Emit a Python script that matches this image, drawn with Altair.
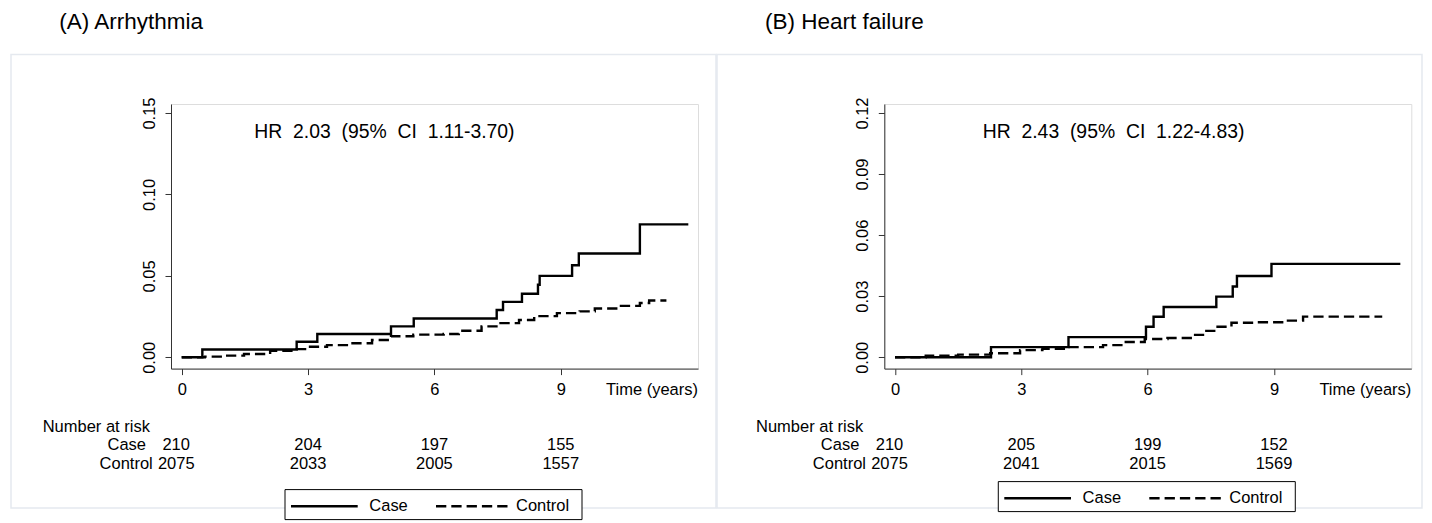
import altair as alt
import pandas as pd

FONT = "Liberation Sans"
GROUPS = ["Case", "Control"]

# ---------------- Panel A: Arrhythmia ----------------
a_case_t = [0, 0.49, 2.73, 3.22, 4.97, 5.51, 7.48, 7.63, 8.08, 8.46, 8.50, 9.27, 9.43, 10.88, 12.03]
a_case_y = [0, 0.0048, 0.0095, 0.0143, 0.019, 0.0238, 0.0290, 0.0340, 0.0390, 0.0445, 0.0500, 0.0565, 0.0637, 0.0816, 0.0816]
a_ctrl_t = [0, 0.55, 1.03, 1.48, 2.1, 2.73, 3.0, 3.45, 3.98, 4.52, 4.97, 5.5, 6.22, 6.58, 7.12, 7.57,
            8.01, 8.37, 8.91, 9.45, 9.81, 10.43, 10.88, 11.1, 11.51]
a_ctrl_y = [0, 0.0004, 0.001, 0.002, 0.004, 0.005, 0.0065, 0.0075, 0.0086, 0.0106, 0.0129, 0.0139, 0.0143,
            0.0163, 0.019, 0.021, 0.0229, 0.0253, 0.0271, 0.0282, 0.030, 0.0316, 0.0333, 0.0349, 0.0349]
a_yticks = [0, 0.05, 0.10, 0.15]
a_risk_case = [210, 204, 197, 155]
a_risk_ctrl = [2075, 2033, 2005, 1557]

# ---------------- Panel B: Heart failure ----------------
b_case_t = [0, 2.28, 4.12, 5.96, 6.14, 6.38, 7.63, 8.02, 8.12, 8.94, 12.0]
b_case_y = [0, 0.005, 0.0099, 0.015, 0.0199, 0.0247, 0.0298, 0.0348, 0.0399, 0.0459, 0.0459]
b_ctrl_t = [0, 0.73, 1.5, 2.26, 2.97, 3.5, 4.05, 4.94, 5.48, 5.93, 6.47, 7.09, 7.36, 7.63, 7.99, 8.6,
            9.24, 9.69, 11.57]
b_ctrl_y = [0, 0.0008, 0.0013, 0.002, 0.0035, 0.0042, 0.005, 0.006, 0.0075, 0.009, 0.0095, 0.011, 0.013,
            0.015, 0.017, 0.0172, 0.018, 0.020, 0.020]
b_yticks = [0, 0.03, 0.06, 0.09, 0.12]
b_risk_case = [210, 205, 199, 152]
b_risk_ctrl = [2075, 2041, 2015, 1569]

risk_times = [0, 3, 6, 9]
x_ticks = [0, 3, 6, 9]

W, H = 527, 264.6
X_DOMAIN = [-0.254, 12.26]


def one(text):
    return pd.DataFrame({"label": [text]})


def txt(text, x, y, size=16.5, align="left", baseline="alphabetic"):
    return alt.Chart(one(text)).mark_text(
        align=align, baseline=baseline, fontSize=size, font=FONT, color="black"
    ).encode(text="label:N", x=alt.value(x), y=alt.value(y))


def panel(title, title_x, hr, hr_x, case_t, case_y, ctrl_t, ctrl_y, yticks, ydom,
          risk_case, risk_ctrl, leg_top, frame_l, frame_r, anchor=False):
    xaxis = alt.Axis(values=x_ticks, format="d", title=None, labelFont=FONT, labelFontSize=16.5,
                     labelColor="black", labelPadding=7, labelFlush=False, tickSize=6,
                     tickColor="#333", domainColor="#333", grid=False)
    xs = alt.Scale(domain=X_DOMAIN, nice=False, zero=False)
    x = alt.X("t:Q", scale=xs, axis=xaxis)
    y = alt.Y("v:Q", scale=alt.Scale(domain=ydom, nice=False, zero=False),
              axis=alt.Axis(values=yticks, format=".2f", title=None, labelFont=FONT,
                            labelFontSize=16.5, labelColor="black", labelAngle=270,
                            labelAlign="center", labelBaseline="alphabetic", labelPadding=10.7,
                            labelFlush=False, tickSize=6, tickColor="#333", domainColor="#333",
                            grid=False))

    curves = pd.DataFrame({
        "t": case_t + ctrl_t,
        "v": case_y + ctrl_y,
        "group": ["Case"] * len(case_t) + ["Control"] * len(ctrl_t),
    })
    lines = alt.Chart(curves).mark_line(
        interpolate="step-after", color="black", strokeWidth=2.4
    ).encode(
        x=x, y=y,
        strokeDash=alt.StrokeDash("group:N", scale=alt.Scale(domain=GROUPS, range=[[1, 0], [10.3, 5]]),
                                  legend=None),
        detail="group:N",
    )

    layers = []
    blank = pd.DataFrame({"a": [0]})
    if anchor:
        layers.append(alt.Chart(blank).mark_rect(color="white").encode(
            x=alt.value(-162), x2=alt.value(-161), y=alt.value(-94.7), y2=alt.value(-93.7)))
    # panel frame
    layers.append(alt.Chart(blank).mark_rect(fillOpacity=0, stroke="#e5e9ef", strokeWidth=1.5).encode(
        x=alt.value(frame_l), x2=alt.value(frame_r), y=alt.value(-49.4), y2=alt.value(404)))
    layers.append(lines)
    layers.append(txt(title, title_x, -75.4, size=22.5))
    layers.append(txt(hr, hr_x, 34, size=19.4))
    layers.append(txt("Time (years)", W, 290.6, align="right"))
    layers.append(txt("Number at risk", -128.3, 328))
    layers.append(txt("Case", -25, 345.6, align="right"))
    layers.append(txt("Control", -18.3, 364.6, align="right"))

    for vals, ypos in [(risk_case, 345.6), (risk_ctrl, 364.6)]:
        rd = pd.DataFrame({"t": risk_times, "n": vals})
        base = alt.Chart(rd)
        layers.append(base.transform_filter("datum.t == 0").mark_text(
            align="center", baseline="alphabetic", fontSize=16.5, font=FONT, color="black", dx=-5.5
        ).encode(x=x, y=alt.value(ypos), text="n:Q"))
        layers.append(base.transform_filter("datum.t > 0").mark_text(
            align="center", baseline="alphabetic", fontSize=16.5, font=FONT, color="black"
        ).encode(x=x, y=alt.value(ypos), text="n:Q"))

    # legend box
    layers.append(alt.Chart(blank).mark_rect(fill="white", stroke="black", strokeWidth=1).encode(
        x=alt.value(114), x2=alt.value(411), y=alt.value(leg_top), y2=alt.value(leg_top + 30)))
    layers.append(alt.Chart(blank).mark_rule(color="black", strokeWidth=2.4).encode(
        x=alt.value(120), x2=alt.value(186.7), y=alt.value(leg_top + 16.7)))
    layers.append(alt.Chart(blank).mark_rule(color="black", strokeWidth=2.4, strokeDash=[10.3, 5]).encode(
        x=alt.value(265), x2=alt.value(336.7), y=alt.value(leg_top + 16.7)))
    layers.append(txt(GROUPS[0], 198.3, leg_top + 21.5))
    layers.append(txt(GROUPS[1], 345, leg_top + 21.5))

    return alt.layer(*layers).properties(width=W, height=H)


pA = panel("(A) Arrhythmia", -111.7, "HR\u00a0 2.03\u00a0 (95%\u00a0 CI\u00a0 1.11-3.70)", 83.3,
           a_case_t, a_case_y, a_ctrl_t, a_ctrl_y, a_yticks, [-0.00694, 0.15553],
           a_risk_case, a_risk_ctrl, 385.6, -160, 545, anchor=True)
pB = panel("(B) Heart failure", -119.3, "HR\u00a0 2.43\u00a0 (95%\u00a0 CI\u00a0 1.22-4.83)", 98.4,
           b_case_t, b_case_y, b_ctrl_t, b_ctrl_y, b_yticks, [-0.00555, 0.12442],
           b_risk_case, b_risk_ctrl, 377.6, -167.3, 537.7)

chart = alt.hconcat(pA, pB, spacing=186.3, bounds="flush", padding=0).configure_view(
    stroke=None
).configure(background="white")

chart.save("out.html", embed_options={"renderer": "svg", "actions": False})
